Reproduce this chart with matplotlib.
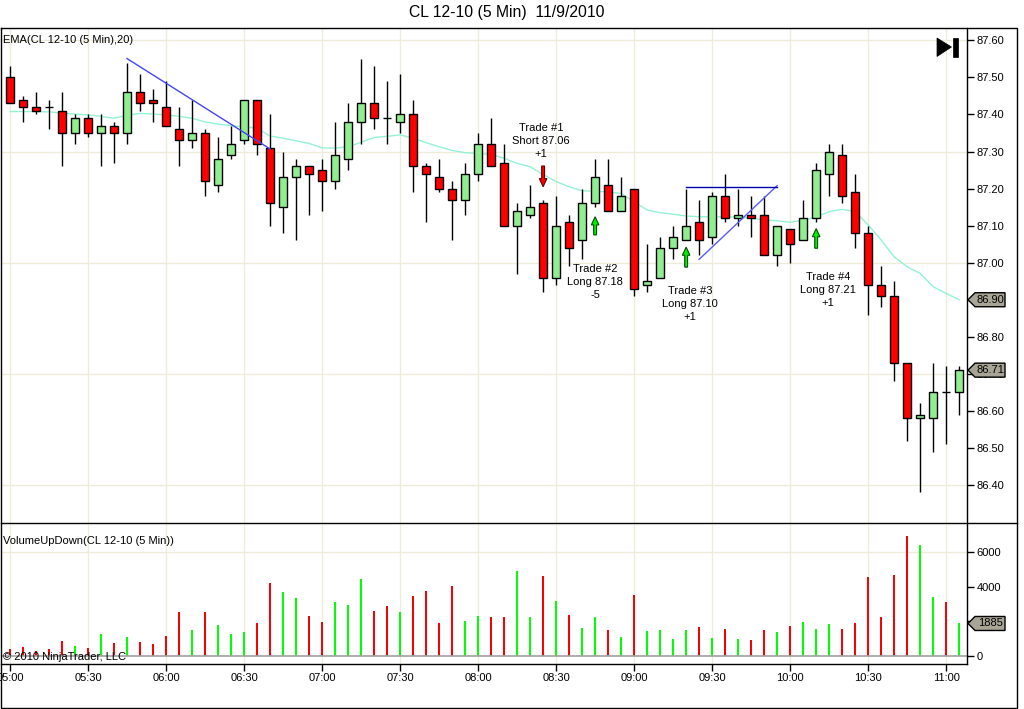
import numpy as np
import matplotlib.pyplot as plt
from matplotlib.patches import Polygon

plt.rcParams['font.family'] = ['Liberation Sans', 'DejaVu Sans']
plt.rcParams['font.size'] = 8

# 5 minute bars, CL 12-10, 11/9/2010, starting 05:00
opens = [87.50, 87.44, 87.42, 87.42, 87.41, 87.35, 87.39, 87.35, 87.37, 87.35,
         87.46, 87.44, 87.42, 87.36, 87.33, 87.35, 87.21, 87.29, 87.33, 87.44,
         87.31, 87.15, 87.23, 87.26, 87.25, 87.22, 87.28, 87.38, 87.43, 87.39,
         87.38, 87.40, 87.26, 87.23, 87.20, 87.17, 87.24, 87.32, 87.27, 87.10,
         87.13, 87.16, 86.96, 87.11, 87.06, 87.16, 87.21, 87.14, 87.20, 86.94,
         86.96, 87.04, 87.06, 87.11, 87.07, 87.18, 87.12, 87.13, 87.13, 87.02,
         87.09, 87.06, 87.12, 87.24, 87.29, 87.19, 87.08, 86.94, 86.91, 86.73,
         86.58, 86.58, 86.65, 86.65]
highs = [87.53, 87.45, 87.46, 87.44, 87.46, 87.40, 87.40, 87.40, 87.38, 87.54,
         87.51, 87.47, 87.49, 87.42, 87.44, 87.36, 87.34, 87.37, 87.44, 87.44,
         87.40, 87.30, 87.28, 87.26, 87.28, 87.38, 87.43, 87.55, 87.53, 87.49,
         87.51, 87.44, 87.27, 87.28, 87.22, 87.27, 87.35, 87.39, 87.32, 87.16,
         87.21, 87.17, 87.18, 87.13, 87.20, 87.28, 87.28, 87.23, 87.20, 87.05,
         87.07, 87.10, 87.20, 87.17, 87.19, 87.24, 87.20, 87.18, 87.18, 87.10,
         87.09, 87.17, 87.27, 87.32, 87.32, 87.24, 87.10, 86.99, 86.95, 86.73,
         86.62, 86.73, 86.72, 86.72]
lows = [87.43, 87.38, 87.40, 87.36, 87.26, 87.32, 87.34, 87.26, 87.27, 87.32,
        87.41, 87.38, 87.37, 87.26, 87.31, 87.18, 87.19, 87.28, 87.32, 87.29,
        87.10, 87.08, 87.06, 87.13, 87.14, 87.20, 87.25, 87.32, 87.36, 87.32,
        87.35, 87.19, 87.11, 87.19, 87.06, 87.13, 87.22, 87.26, 87.10, 86.97,
        87.12, 86.92, 86.94, 86.99, 87.01, 87.15, 87.14, 87.14, 86.91, 86.92,
        86.96, 87.01, 87.06, 87.02, 87.05, 87.11, 87.10, 87.07, 87.02, 86.99,
        87.00, 87.06, 87.11, 87.18, 87.16, 87.04, 86.86, 86.88, 86.68, 86.52,
        86.38, 86.49, 86.51, 86.59]
closes = [87.43, 87.42, 87.41, 87.42, 87.35, 87.39, 87.35, 87.37, 87.35, 87.46,
          87.43, 87.43, 87.37, 87.33, 87.35, 87.22, 87.28, 87.32, 87.44, 87.32,
          87.16, 87.23, 87.26, 87.24, 87.22, 87.29, 87.38, 87.43, 87.39, 87.39,
          87.40, 87.26, 87.24, 87.20, 87.17, 87.24, 87.32, 87.26, 87.10, 87.14,
          87.15, 86.96, 87.10, 87.04, 87.16, 87.23, 87.14, 87.18, 86.93, 86.95,
          87.04, 87.07, 87.10, 87.06, 87.18, 87.12, 87.13, 87.12, 87.02, 87.10,
          87.05, 87.12, 87.25, 87.30, 87.18, 87.08, 86.94, 86.91, 86.73, 86.58,
          86.59, 86.65, 86.65, 86.71]
ema20 = [87.408, 87.408, 87.408, 87.407, 87.404, 87.401, 87.399, 87.395, 87.390, 87.398,
         87.403, 87.401, 87.399, 87.395, 87.390, 87.380, 87.374, 87.370, 87.367, 87.363,
         87.342, 87.336, 87.329, 87.322, 87.310, 87.309, 87.313, 87.325, 87.338, 87.341,
         87.345, 87.336, 87.324, 87.313, 87.303, 87.297, 87.295, 87.292, 87.282, 87.268,
         87.259, 87.238, 87.219, 87.205, 87.194, 87.193, 87.191, 87.187, 87.165, 87.142,
         87.135, 87.131, 87.126, 87.124, 87.124, 87.124, 87.123, 87.120, 87.115, 87.113,
         87.109, 87.115, 87.123, 87.138, 87.144, 87.138, 87.102, 87.061, 87.016, 86.989,
         86.971, 86.935, 86.917, 86.900]
volume = [390, 505, 272, 389, 855, 563, 447, 1263, 738, 1088,
          797, 680, 1146, 2545, 1496, 2545, 1788, 1263, 1380, 1904,
          4236, 3711, 3361, 2312, 1962, 3128, 2953, 4469, 2604, 2895,
          2545, 3478, 3769, 1904, 4061, 2021, 2312, 2254, 2254, 4935,
          2254, 4644, 3187, 2370, 1613, 2254, 1496, 1088, 3536, 1438,
          1496, 972, 1496, 1671, 1030, 1554, 972, 913, 1496, 1380,
          1729, 1962, 1554, 1846, 1554, 1904, 4586, 2254, 4702, 6975,
          6451, 3420, 3128, 1885]

time_labels = ["05:00", "05:30", "06:00", "06:30", "07:00", "07:30", "08:00",
               "08:30", "09:00", "09:30", "10:00", "10:30", "11:00"]
price_ticks = [86.40, 86.50, 86.60, 86.70, 86.80, 86.90, 87.00, 87.10, 87.20, 87.30, 87.40, 87.50, 87.60]
price_grid = [86.40, 86.70, 87.00, 87.30, 87.60]
vol_ticks = [0, 2000, 4000, 6000]

# trades: bar index, arrow base, arrow tip, text x, text y, text
trade_bar = [41, 45, 52, 62]
trade_base = [87.261, 87.075, 86.988, 87.039]
trade_tip = [87.205, 87.124, 87.042, 87.092]
trade_text_x = [40.85, 45.0, 52.3, 62.9]
trade_text_y = [87.328, 86.948, 86.889, 86.926]
trade_text = ["Trade #1\nShort 87.06\n+1", "Trade #2\nLong 87.18\n-5",
              "Trade #3\nLong 87.10\n+1", "Trade #4\nLong 87.21\n+1"]

# drawing tools on the chart
line1_x, line1_y = [9, 20], [87.551, 87.307]
line2_x, line2_y = [53, 59], [87.009, 87.208]
hline_x, hline_y = [52, 59], [87.203, 87.203]

W, H = 1024, 709
fig = plt.figure(figsize=(W / 100, H / 100), dpi=100)
fig.patch.set_facecolor('white')


def px_rect(l, t, r, b):
    return [l / W, 1 - b / H, (r - l) / W, (b - t) / H]


ax = fig.add_axes(px_rect(0.5, 27.5, 967, 523))
axv = fig.add_axes(px_rect(0.5, 523, 967, 663.5), sharex=ax)

n = len(closes)
x = np.arange(n)
o = np.array(opens)
c = np.array(closes)
grid_col = '#efebd9'

for a in (ax, axv):
    for s in a.spines.values():
        s.set_visible(False)
    for k in range(0, n, 6):
        a.axvline(k, color=grid_col, lw=1, zorder=0)

ax.set_xlim(-0.73, 73.6)
ax.set_ylim(86.2974, 87.6348)
for g in price_grid:
    ax.axhline(g, color=grid_col, lw=1, zorder=0)

# EMA
ax.plot(x, ema20, color='#93f2d4', lw=1, zorder=1)

# candles
ax.vlines(x, lows, highs, color='black', lw=1, zorder=2)
up = c > o
dn = c < o
bw = 0.64
ax.bar(x[up], (c - o)[up], bottom=o[up], width=bw, color='#90ee90', edgecolor='black', lw=1, zorder=3)
ax.bar(x[dn], (o - c)[dn], bottom=c[dn], width=bw, color='#ff0000', edgecolor='black', lw=1, zorder=3)
dj = ~(up | dn)
ax.hlines(c[dj], x[dj] - bw / 2, x[dj] + bw / 2, color='black', lw=1, zorder=3)

# drawings
ax.plot(line1_x, line1_y, color='#4545f2', lw=1, zorder=4)
ax.plot(line2_x, line2_y, color='#5a5af5', lw=1, zorder=4)
ax.plot(hline_x, hline_y, color='#0000b0', lw=1, zorder=4)

# trade arrows and text
for b, yb, yt, tx, ty, t in zip(trade_bar, trade_base, trade_tip, trade_text_x, trade_text_y, trade_text):
    head = 0.022 if yt > yb else -0.022
    sw, hw = 0.11, 0.29
    pts = [(b - sw, yb), (b - sw, yt - head), (b - hw, yt - head), (b, yt),
           (b + hw, yt - head), (b + sw, yt - head), (b + sw, yb)]
    fc = '#00ee00' if yt > yb else '#ff0000'
    ec = '#005000' if yt > yb else '#600000'
    ax.add_patch(Polygon(pts, closed=True, fc=fc, ec=ec, lw=0.8, zorder=5))
    ax.text(tx, ty, t, ha='center', va='center', fontsize=8, linespacing=1.35, zorder=6)

ax.yaxis.tick_right()
ax.set_yticks(price_ticks)
ax.set_yticklabels(['%.2f' % p for p in price_ticks])
ax.tick_params(axis='y', direction='out', length=5, width=1, pad=2, labelsize=8)
ax.tick_params(axis='x', bottom=False, labelbottom=False)

# volume panel
vcol = ['#00ff00' if cl > op else '#ff0000' for op, cl in zip(opens, closes)]
axv.set_ylim(-435, 7710)
axv.axhline(6000, color=grid_col, lw=1, zorder=0)
axv.bar(x, volume, width=0.17, color=vcol, zorder=2)
axv.axhline(0, color='#a0a0a0', lw=1.2, zorder=3)
axv.yaxis.tick_right()
axv.set_yticks(vol_ticks)
axv.set_yticklabels([str(v) for v in vol_ticks])
axv.tick_params(axis='y', direction='out', length=5, width=1, pad=2, labelsize=8)
axv.set_xticks(range(0, n, 6))
axv.set_xticklabels(time_labels)
axv.tick_params(axis='x', direction='out', length=5, width=1, pad=1.5, labelsize=8)

# frame lines (pixel coords)
def fline(xs, ys, **kw):
    fig.add_artist(plt.Line2D([v / W for v in xs], [1 - v / H for v in ys], color='black', lw=1, **kw))

fline([0.5, 1017, 1017, 0.5, 0.5], [27.5, 27.5, 707.5, 707.5, 27.5])
fline([0.5, 1017], [523, 523])
fline([967, 967], [27.5, 663.5])
fline([0.5, 967], [663.5, 663.5])

# last value tags
def tag(axis, yval, text):
    fig.canvas.draw()
    yd = axis.transData.transform((0, yval))[1] / H
    h = 7 / H
    pts = [(968 / W, yd), (975 / W, yd + h), (1005 / W, yd + h), (1005 / W, yd - h), (975 / W, yd - h)]
    fig.add_artist(Polygon(pts, closed=True, fc='#a9a596', ec='black', lw=1, transform=fig.transFigure, zorder=5))
    fig.text(990.5 / W, yd, text, ha='center', va='center', fontsize=8, zorder=6)

tag(ax, ema20[-1], '%.2f' % ema20[-1])
tag(ax, closes[-1], '%.2f' % closes[-1])
tag(axv, volume[-1], str(volume[-1]))

# play icon
fig.add_artist(Polygon([(937 / W, 1 - 38 / H), (951.5 / W, 1 - 47 / H), (937 / W, 1 - 56.5 / H)],
                       closed=True, fc='black', ec='black', lw=0.5, transform=fig.transFigure))
fig.add_artist(Polygon([(953 / W, 1 - 38 / H), (957.5 / W, 1 - 38 / H), (957.5 / W, 1 - 57 / H), (953 / W, 1 - 57 / H)],
                       closed=True, fc='black', ec='black', lw=0.5, transform=fig.transFigure))

fig.text(507 / W, 1 - 13 / H, "CL 12-10 (5 Min)  11/9/2010", ha='center', va='center', fontsize=11.3)
fig.text(3 / W, 1 - 40 / H, "EMA(CL 12-10 (5 Min),20)", ha='left', va='center', fontsize=8)
fig.text(3 / W, 1 - 541 / H, "VolumeUpDown(CL 12-10 (5 Min))", ha='left', va='center', fontsize=8)
fig.text(3 / W, 1 - 657 / H, "\u00a9 2010 NinjaTrader, LLC", ha='left', va='center', fontsize=8)

fig.savefig('out.png', dpi=100)
